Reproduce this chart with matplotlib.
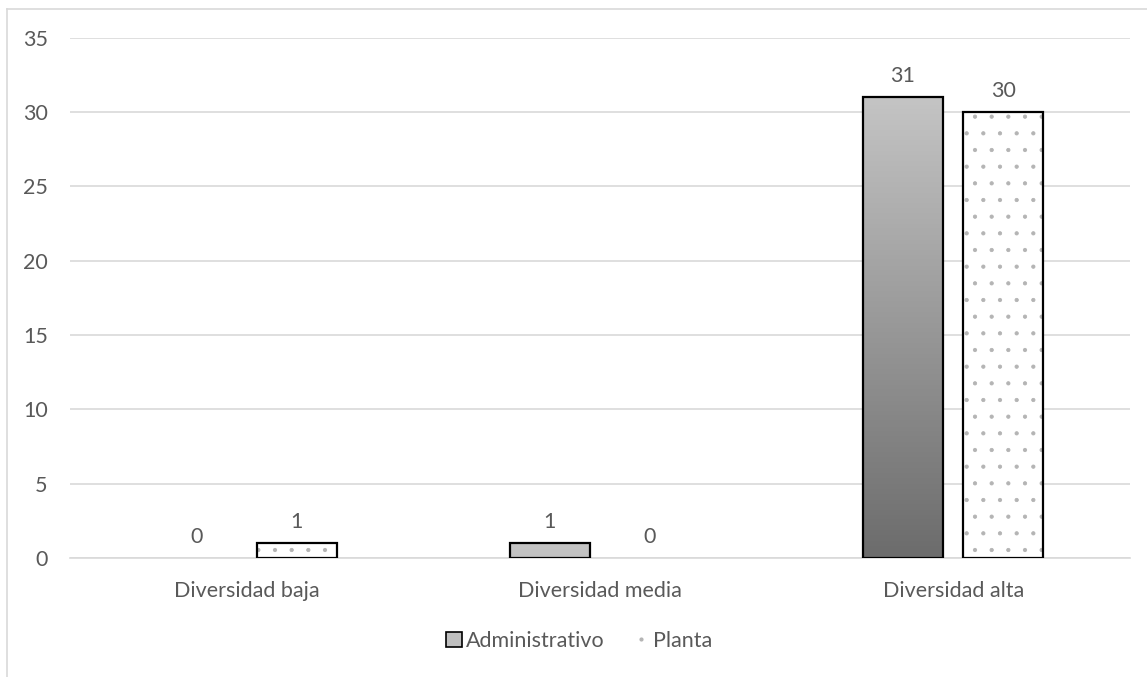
import numpy as np
import matplotlib.pyplot as plt
from matplotlib.patches import Patch
from matplotlib.lines import Line2D
from matplotlib.colors import LinearSegmentedColormap

plt.rcParams['font.family'] = ['Lato', 'DejaVu Sans']
plt.rcParams['hatch.linewidth'] = 0.6

categories = ['Diversidad baja', 'Diversidad media', 'Diversidad alta']
administrativo = [0, 1, 31]
planta = [1, 0, 30]
series_names = ['Administrativo', 'Planta']

text_color = '#595959'
grid_color = '#d9d9d9'
fs = 15.5

fig = plt.figure(figsize=(11.47, 6.77), dpi=100)
ax = fig.add_axes([0.061, 0.176, 0.924, 0.768])

x = np.arange(len(categories))
width = 0.226
offset = 0.142

# gradient for Administrativo: light at top, darker further down
cmap = LinearSegmentedColormap.from_list('g', ['#c4c4c4', '#6c6c6c'])
top_val = max(administrativo)
for xi, v in zip(x, administrativo):
    if v == 0:
        continue
    bar = ax.bar(xi - offset, v, width, color='none', edgecolor='black',
                 linewidth=1.6, zorder=3)[0]
    grad = np.linspace(v / top_val, 0, 200).reshape(-1, 1)
    im = ax.imshow(grad, cmap=cmap, vmin=0, vmax=1, aspect='auto',
                   extent=(xi - offset - width / 2, xi - offset + width / 2, 0, v),
                   origin='lower', zorder=2)
    im.set_clip_path(bar)

# Planta: white with grey dot pattern
for xi, v in zip(x, planta):
    if v == 0:
        continue
    ax.bar(xi + offset, v, width, color='white', edgecolor='#b4b4b4',
           hatch='.', linewidth=0, zorder=2)
    ax.bar(xi + offset, v, width, color='none', edgecolor='black',
           linewidth=1.6, zorder=3)

for xi, v in zip(x, administrativo):
    ax.annotate(str(v), (xi - offset, v), xytext=(0, 8), textcoords='offset points',
                ha='center', va='bottom', fontsize=fs, color=text_color)
for xi, v in zip(x, planta):
    ax.annotate(str(v), (xi + offset, v), xytext=(0, 8), textcoords='offset points',
                ha='center', va='bottom', fontsize=fs, color=text_color)

ax.set_xlim(-0.5, 2.5)
ax.set_ylim(0, 35)
ax.set_yticks(range(0, 36, 5))
ax.set_xticks(x)
ax.set_xticklabels(categories)
ax.yaxis.grid(True, color=grid_color, linewidth=1.2, zorder=0)
ax.set_axisbelow(True)
for s in ['top', 'right', 'left']:
    ax.spines[s].set_visible(False)
ax.spines['bottom'].set_color(grid_color)
ax.spines['bottom'].set_linewidth(1.2)
ax.tick_params(axis='both', length=0, labelsize=fs, colors=text_color)
ax.tick_params(axis='y', pad=16)
ax.tick_params(axis='x', pad=17)

handles = [Patch(facecolor='#bfbfbf', edgecolor='black', linewidth=1.2),
           Line2D([], [], marker='.', linestyle='none', color='#b4b4b4', markersize=4)]
fig.legend(handles, series_names, loc='center', bbox_to_anchor=(0.505, 0.053),
           ncol=2, frameon=False, fontsize=fs, labelcolor=text_color,
           handlelength=0.75, handleheight=0.75, handletextpad=0.2, columnspacing=1.3)

# chart frame
fig.add_artist(Line2D([0.0057, 0.0057], [0, 0.9874], transform=fig.transFigure,
                      color=grid_color, linewidth=1.2))
fig.add_artist(Line2D([0.0057, 1.0], [0.9874, 0.9874], transform=fig.transFigure,
                      color=grid_color, linewidth=1.2))

fig.savefig('out.png', dpi=100)
